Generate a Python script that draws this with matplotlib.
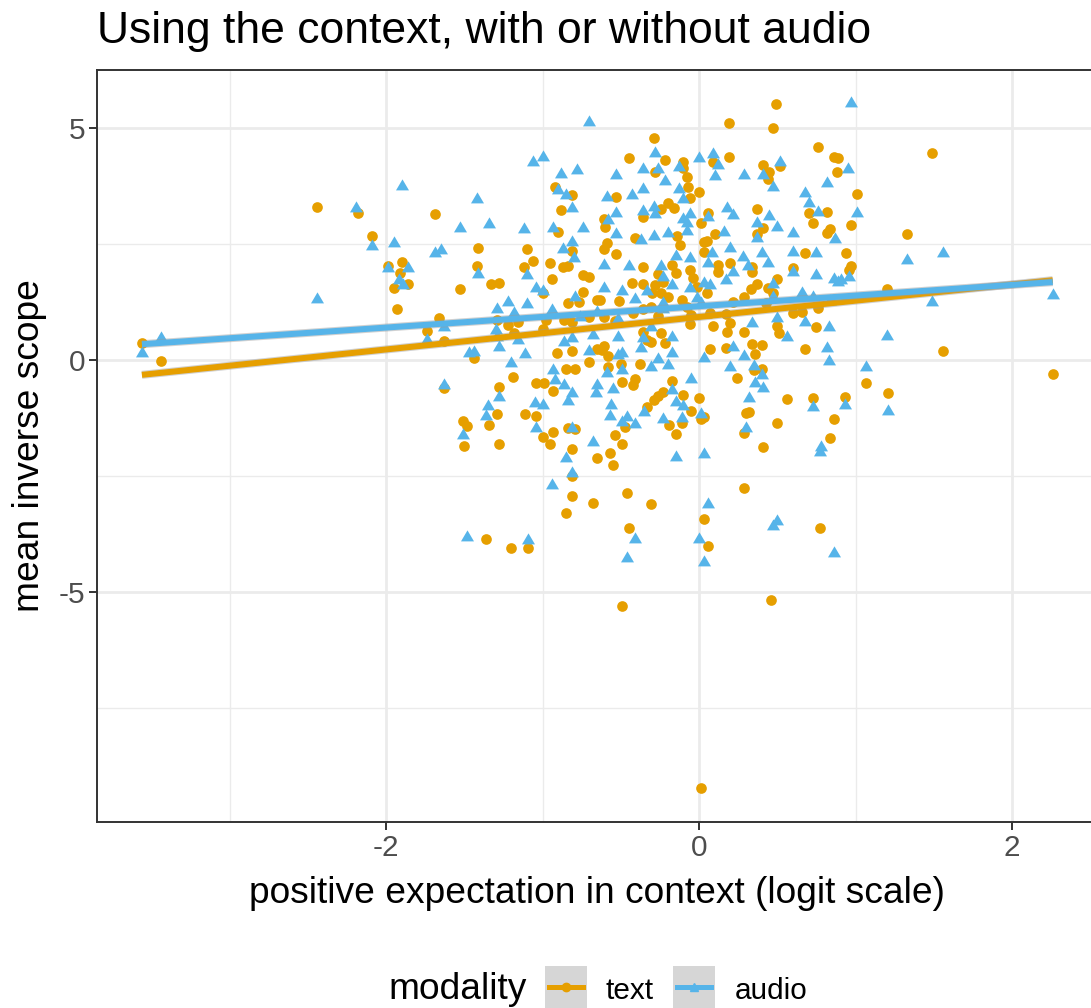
import numpy as np
import matplotlib
matplotlib.use("Agg")
import matplotlib.pyplot as plt
import matplotlib.patheffects as pe
from matplotlib.patches import Rectangle
from matplotlib.lines import Line2D

plt.rcParams["font.family"] = ["Liberation Sans", "DejaVu Sans"]
plt.rcParams["axes.unicode_minus"] = False

# (positive expectation logit, mean inverse scope) per item
text_pts = [
    (-3.56, 0.37), (-3.44, -0.02), (-2.44, 3.30), (-2.18, 3.17),
    (-0.92, 3.73), (-0.81, 3.56), (-0.88, 3.23), (-1.69, 3.15), (-2.09, 2.67), (-0.90, 2.76),
    (-1.41, 2.41), (-1.10, 2.39), (-0.81, 2.35), (-1.99, 2.03), (-1.90, 2.11), (-1.42, 2.03),
    (-1.12, 2.00), (-1.06, 2.13), (-0.95, 2.09), (-0.87, 2.00), (-0.84, 2.03),
    (0.49, 5.52), (0.19, 5.11), (0.47, 5.00), (-0.29, 4.78), (0.76, 4.59), (0.86, 4.37),
    (0.89, 4.36), (0.88, 4.05), (-0.45, 4.35), (-0.22, 4.31), (-0.10, 4.27), (0.09, 4.27),
    (0.19, 4.37), (-0.28, 4.05), (-0.10, 4.14), (-0.08, 3.94), (0.41, 4.20), (0.45, 4.05),
    (0.44, 3.90), (0.52, 4.18), (-0.53, 3.51), (-0.07, 3.73), (0.00, 3.62), (-0.06, 3.49),
    (-0.24, 3.25), (-0.20, 3.38), (-0.16, 3.28), (-0.36, 3.08), (0.06, 3.17), (0.37, 3.25),
    (0.70, 3.17), (0.82, 3.19), (0.73, 2.95), (-0.61, 3.04), (-0.60, 2.87), (0.01, 2.95),
    (-0.14, 2.67), (-0.41, 2.63), (0.10, 2.72), (0.41, 2.84), (0.37, 2.72), (0.82, 2.74),
    (0.84, 2.82), (-0.59, 2.52), (-0.61, 2.39), (-0.53, 2.28), (-0.12, 2.48), (0.03, 2.54),
    (0.05, 2.56), (0.03, 2.33), (0.68, 2.31), (-0.36, 2.00), (-0.17, 2.05), (0.12, 2.05),
    (0.20, 2.09), (0.34, 2.00), (0.60, 1.98),
    (1.49, 4.46), (1.01, 3.58), (0.97, 2.91), (1.33, 2.72), (0.94, 2.31), (0.97, 2.03),
    (-1.95, 1.55), (-1.86, 1.64), (-1.91, 1.87), (-1.93, 1.10), (-1.53, 1.53), (-1.33, 1.64),
    (-1.28, 1.66), (-0.94, 1.75), (-1.00, 1.44), (-0.74, 1.83), (-0.70, 1.79), (-0.74, 1.47),
    (-0.84, 1.23), (-0.77, 1.25), (-0.65, 1.29), (-1.66, 0.91), (-1.74, 0.62), (-1.63, 0.41),
    (-1.29, 0.86), (-0.98, 0.86), (-0.86, 0.87), (-0.81, 0.82), (-0.70, 0.93), (-1.22, 0.75),
    (-1.16, 0.82), (-1.18, 0.58), (-1.00, 0.67), (-1.44, 0.04), (-0.81, 0.19), (-0.91, 0.15),
    (-0.65, 0.24), (-0.70, -0.04), (-1.19, -0.37), (-0.85, -0.19), (-0.79, -0.19), (-1.04, -0.50),
    (-0.99, -0.50), (-0.93, -0.67), (-1.63, -0.60), (-1.28, -0.58), (-1.29, -1.16), (-1.34, -1.40),
    (-1.11, -1.16), (-1.04, -1.21), (-1.00, -1.66), (-0.93, -1.55), (-0.95, -1.81), (-1.51, -1.31),
    (-1.48, -1.42), (-1.50, -1.85), (-1.28, -1.81), (-0.84, -1.47), (-0.79, -1.49), (-0.81, -1.92),
    (-0.43, 1.66), (-0.36, 1.64), (-0.28, 1.62), (-0.23, 1.68), (-0.26, 1.85), (-0.15, 1.87),
    (-0.04, 1.77), (-0.06, 1.94), (-0.01, 1.57), (0.05, 1.44), (0.12, 1.90), (0.34, 1.90),
    (0.50, 1.75), (0.37, 1.64), (0.33, 1.53), (0.44, 1.55), (0.47, 1.44), (-0.51, 1.27),
    (-0.30, 1.44), (-0.24, 1.45), (-0.20, 1.36), (-0.11, 1.29), (-0.08, 1.14), (0.22, 1.25),
    (0.29, 1.36), (0.43, 1.23), (0.76, 1.12), (0.66, 1.03), (0.60, 1.01), (-0.36, 1.10),
    (-0.31, 1.14), (-0.26, 0.95), (-0.42, 1.01), (-0.54, 0.84), (-0.61, 0.93), (-0.63, 1.29),
    (-0.06, 0.78), (-0.05, 0.97), (0.07, 1.01), (0.17, 0.99), (0.09, 0.73), (0.18, 0.60),
    (0.20, 0.80), (0.29, 0.60), (0.50, 0.73), (0.51, 0.58), (0.75, 0.71), (-0.36, 0.60),
    (-0.24, 0.58), (-0.22, 0.37), (-0.33, 0.43), (-0.31, 0.39), (-0.61, 0.30), (-0.62, 0.22),
    (-0.58, 0.09), (-0.50, -0.09), (-0.58, -0.15), (-0.38, -0.09), (0.07, 0.24), (0.17, 0.26),
    (0.34, 0.34), (0.40, 0.32), (0.36, 0.13), (0.40, -0.19), (0.35, -0.22), (0.24, -0.39),
    (0.68, 0.24), (0.56, -0.84), (0.73, -0.82), (0.86, -1.27), (0.84, -1.68), (-0.49, -0.47),
    (-0.41, -0.41), (-0.42, -0.54), (-0.17, -0.45), (-0.23, -0.69), (-0.26, -0.78), (-0.29, -0.86),
    (-0.10, -0.75), (0.00, -0.82), (-0.05, -1.10), (-0.33, -1.01), (-0.47, -1.44), (0.03, -1.23),
    (0.01, -1.27), (-0.19, -1.40), (-0.11, -1.36), (-0.15, -1.59), (0.30, -1.14), (0.32, -1.12),
    (0.29, -1.57), (0.50, -1.36), (-0.54, -1.62), (-0.49, -1.81), (0.41, -1.87),
    (0.96, 1.94), (1.20, 1.53), (1.56, 0.19), (2.26, -0.30), (1.07, -0.50), (1.21, -0.71),
    (0.93, -0.80),
    (-0.65, -2.11), (-0.81, -2.50), (-0.81, -2.93), (-0.68, -3.08), (-0.85, -3.30), (-1.36, -3.86),
    (-1.20, -4.05), (-1.09, -4.05),
    (-0.57, -2.00), (-0.55, -2.26), (-0.46, -2.87), (-0.31, -3.10), (0.29, -2.76), (0.03, -3.43),
    (0.77, -3.62), (-0.45, -3.62), (0.06, -4.01), (-0.49, -5.30), (0.46, -5.17), (0.01, -9.22),
]

audio_pts = [
    (-3.44, 0.47), (-3.56, 0.15), (-2.19, 3.28), (-2.44, 1.31),
    (-0.70, 5.13), (-1.06, 4.27), (-1.00, 4.37), (-1.90, 3.75), (-0.88, 4.01), (-0.78, 4.09),
    (-0.90, 3.66), (-0.85, 3.56), (-0.81, 3.28), (-1.42, 3.47), (-1.53, 2.84), (-1.34, 2.93),
    (-1.12, 2.82), (-0.93, 2.84), (-0.74, 2.84), (-2.09, 2.46), (-1.95, 2.52), (-1.69, 2.31),
    (-1.65, 2.37), (-0.87, 2.39), (-0.81, 2.54), (-0.80, 2.20), (-1.99, 1.98), (-1.86, 1.98),
    (-0.28, 4.46), (0.00, 4.35), (0.09, 4.44), (0.12, 4.20), (-0.53, 3.99), (-0.36, 4.12),
    (-0.26, 4.12), (-0.13, 4.16), (-0.22, 3.86), (0.10, 3.97), (0.29, 3.99), (0.41, 3.99),
    (0.52, 4.27), (0.47, 3.73), (0.82, 3.81), (-0.59, 3.51), (-0.43, 3.56), (-0.36, 3.69),
    (-0.13, 3.69), (-0.10, 3.47), (0.68, 3.60), (0.70, 3.38), (-0.29, 3.30), (-0.36, 3.21),
    (-0.53, 3.17), (-0.28, 3.15), (-0.06, 3.15), (-0.10, 3.04), (-0.08, 2.95), (0.06, 3.08),
    (0.18, 3.28), (0.22, 3.12), (0.45, 3.10), (0.76, 3.19), (-0.58, 3.02), (-0.08, 2.78),
    (-0.20, 2.74), (-0.29, 2.67), (-0.37, 2.59), (-0.53, 2.72), (0.16, 2.76), (0.37, 2.95),
    (0.37, 2.63), (0.50, 2.87), (0.60, 2.74), (0.87, 2.61), (0.08, 2.31), (0.20, 2.41),
    (0.40, 2.31), (0.60, 2.33), (0.75, 2.30), (-0.15, 2.24), (-0.06, 2.20), (-0.61, 2.05),
    (-0.45, 2.03), (-0.24, 2.03), (0.06, 2.09), (0.28, 2.22), (0.31, 2.03), (0.44, 2.09),
    (0.97, 5.54), (0.95, 4.12), (1.01, 3.17), (1.33, 2.16), (1.56, 2.31),
    (-1.92, 1.72), (-1.89, 1.62), (-1.41, 1.85), (-1.10, 1.83), (-1.04, 1.55), (-1.00, 1.49),
    (-0.79, 1.36), (-1.22, 1.25), (-1.29, 1.10), (-1.10, 1.21), (-1.18, 1.01), (-0.94, 1.08),
    (-0.76, 0.93), (-0.65, 1.03), (-1.63, 0.71), (-1.74, 0.43), (-1.30, 0.65), (-1.29, 0.50),
    (-1.16, 0.43), (-1.28, 0.28), (-1.11, 0.13), (-1.47, 0.15), (-1.44, 0.17), (-0.86, 0.39),
    (-0.81, 0.47), (-0.70, 0.19), (-0.68, 0.54), (-1.20, -0.06), (-0.93, -0.22), (-0.92, -0.43),
    (-0.86, -0.54), (-0.81, -0.71), (-0.84, -0.88), (-0.65, -0.54), (-0.66, -0.72), (-1.63, -0.54),
    (-1.28, -0.80), (-1.35, -0.99), (-1.36, -1.21), (-1.05, -0.93), (-1.00, -0.97), (-1.04, -1.47),
    (-1.51, -1.62), (-0.81, -1.47), (-0.68, -1.77),
    (-0.23, 1.79), (-0.17, 1.62), (0.03, 1.66), (0.07, 1.62), (0.17, 1.72), (0.22, 1.90),
    (0.47, 1.64), (0.60, 1.90), (0.75, 1.83), (0.86, 1.75), (0.89, 1.68), (-0.61, 1.55),
    (-0.49, 1.49), (-0.41, 1.31), (-0.33, 1.49), (-0.23, 1.23), (-0.06, 1.55), (-0.01, 1.34),
    (0.01, 1.23), (0.47, 1.36), (0.66, 1.44), (0.73, 1.36), (0.84, 1.27), (-0.23, 1.10),
    (-0.52, 0.88), (0.34, 0.80), (0.50, 0.91), (0.56, 0.50), (0.68, 0.82), (0.83, 0.71),
    (-0.31, 0.71), (-0.17, 0.50), (-0.36, 0.47), (-0.37, 0.26), (-0.52, 0.50), (-0.52, 0.11),
    (-0.49, 0.15), (-0.31, -0.15), (-0.26, 0.02), (-0.20, -0.11), (-0.17, 0.15), (-0.59, -0.28),
    (-0.49, -0.22), (0.22, 0.28), (0.29, 0.09), (0.03, 0.04), (0.20, -0.15), (0.35, -0.13),
    (0.40, -0.32), (0.36, -0.50), (0.41, -0.60), (0.32, -0.82), (0.82, 0.26), (0.83, -0.02),
    (0.73, -1.01), (0.78, -1.87), (-0.05, -0.41), (-0.55, -0.62), (-0.17, -0.65), (-0.15, -0.91),
    (-0.10, -0.99), (-0.35, -1.12), (-0.56, -0.97), (-0.57, -1.21), (-0.46, -1.23), (-0.49, -1.34),
    (-0.41, -1.38), (0.01, -1.16), (-0.23, -1.27), (-0.11, -1.25), (0.30, -1.47),
    (0.96, 1.79), (0.91, 1.72), (1.49, 1.25), (2.26, 1.40), (1.20, 0.52), (1.07, -0.15),
    (0.93, -0.97), (1.21, -1.10),
    (-0.85, -2.11), (-0.81, -2.44), (-0.94, -2.69), (-1.48, -3.81), (-1.09, -3.88),
    (-0.15, -2.09), (0.03, -2.03), (0.77, -1.98), (0.06, -3.10), (0.50, -3.47), (0.47, -3.58),
    (-0.41, -3.86), (-0.46, -4.27), (0.00, -3.86), (0.03, -4.35), (0.86, -4.16),
]

# linear fits: (intercept, slope)
text_fit = (0.928, 0.3505)
audio_fit = (1.159, 0.230)

modalities = ["text", "audio"]
x_ticks = [-2, 0, 2]
y_ticks = [-5, 0, 5]

ORANGE = "#E69F00"
BLUE = "#56B4E9"
W, H = 1091, 1008


def fx(px):
    return px / W


def fy(py):
    return 1 - py / H


# flattened equilateral-ish triangle like ggplot shape 17
tri = [(-1, -0.6), (1, -0.6), (0, 1.1), (-1, -0.6)]

fig = plt.figure(figsize=(W / 100, H / 100), dpi=100)
ax = fig.add_axes([fx(97), fy(822), fx(1097) - fx(97), fy(70) - fy(822)])

ax.set_xlim(-3.847, 2.543)
ax.set_ylim(-9.957, 6.25)
ax.set_xticks(x_ticks)
ax.set_xticks([-3, -1, 1], minor=True)
ax.set_yticks(y_ticks)
ax.set_yticks([-7.5, -2.5, 2.5], minor=True)
ax.set_xticklabels([str(t) for t in x_ticks])
ax.set_yticklabels([str(t) for t in y_ticks])
ax.grid(which="major", color="#EBEBEB", lw=2.0)
ax.grid(which="minor", color="#EBEBEB", lw=1.0)
ax.set_axisbelow(True)
ax.tick_params(which="minor", length=0)
ax.tick_params(which="major", length=5.5, width=1.4, color="#333333",
               labelsize=21.4, labelcolor="#4D4D4D", pad=3)
for side in ["left", "bottom", "top"]:
    ax.spines[side].set_color("#333333")
    ax.spines[side].set_linewidth(1.4)
ax.spines["right"].set_visible(False)

tp = np.array(text_pts)
ap = np.array(audio_pts)
ax.scatter(tp[:, 0], tp[:, 1], s=59, marker="o", color=ORANGE, lw=0, zorder=3)
ax.scatter(ap[:, 0], ap[:, 1], s=106, marker=tri, color=BLUE, lw=0, zorder=3)

# regression lines over each group's x range
halo = [pe.Stroke(linewidth=5.8, foreground="#9a9a9a", alpha=0.45), pe.Normal()]
for pts, fit, col in [(tp, text_fit, ORANGE), (ap, audio_fit, BLUE)]:
    xs = np.linspace(pts[:, 0].min(), pts[:, 0].max(), 50)
    ax.plot(xs, fit[0] + fit[1] * xs, color=col, lw=4.3, zorder=4,
            solid_capstyle="butt", path_effects=halo)

fig.text(fx(97), fy(43), "Using the context, with or without audio",
         fontsize=32, ha="left", va="baseline")
fig.text(fx(597), fy(903), "positive expectation in context (logit scale)",
         fontsize=26.7, ha="center", va="baseline")
fig.text(fx(30), fy(446), "mean inverse scope", fontsize=26.7,
         rotation=90, ha="center", va="center")

# legend along the bottom
fig.text(fx(388), fy(999), "modality", fontsize=26.7, ha="left", va="baseline")
key_x = [545, 673]
label_x = [606, 735]
for name, col, kx, lx, mk in zip(modalities, [ORANGE, BLUE], key_x, label_x, ["o", "^"]):
    fig.add_artist(Rectangle((fx(kx), fy(1012)), fx(42), fy(966) - fy(1012),
                             transform=fig.transFigure, facecolor="#D6D6D6",
                             edgecolor="none"))
    fig.add_artist(Line2D([fx(kx + 4), fx(kx + 38)], [fy(987), fy(987)],
                          transform=fig.transFigure, color=col, lw=3.6))
    fig.add_artist(Line2D([fx(kx + 21)], [fy(987)], transform=fig.transFigure,
                          color=col, marker=mk, ms=6, lw=0))
    fig.text(fx(lx), fy(999), name, fontsize=21.4, ha="left", va="baseline")

fig.savefig("out.png", dpi=100)
